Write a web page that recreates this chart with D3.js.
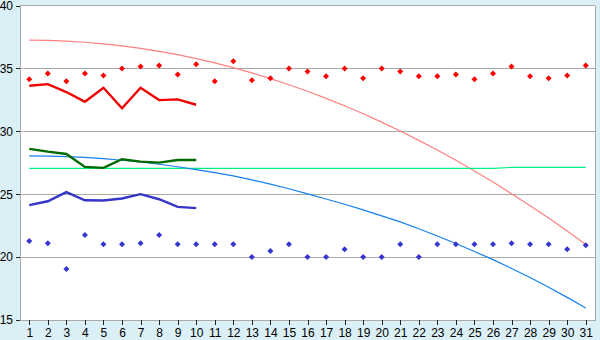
<!DOCTYPE html>
<html>
<head>
<meta charset="utf-8">
<script src="https://cdn.jsdelivr.net/npm/d3@7"></script>
<style>
  body { margin: 0; background: #daeff6; }
  svg { display: block; }
  .tick text { font-family: "Liberation Sans", Arial, sans-serif; font-size: 12px; fill: #000; }
</style>
</head>
<body>
<div id="chart"></div>
<script>
// Days on the x axis
const days = [1, 2, 3, 4, 5, 6, 7, 8, 9, 10, 11, 12, 13, 14, 15, 16, 17, 18, 19, 20,
              21, 22, 23, 24, 25, 26, 27, 28, 29, 30, 31];
const yTicks = [15, 20, 25, 30, 35, 40];

// Marker series (all 31 days)
const redPoints = [34.13, 34.60, 33.97, 34.60, 34.44, 35.00, 35.16, 35.24, 34.52, 35.32,
                   33.97, 35.56, 34.05, 34.21, 35.00, 34.76, 34.37, 35.00, 34.21, 35.00,
                   34.76, 34.37, 34.37, 34.52, 34.13, 34.60, 35.16, 34.37, 34.21, 34.44, 35.24];
const bluePoints = [21.27, 21.11, 19.05, 21.75, 21.03, 21.03, 21.11, 21.75, 21.03, 21.03,
                    21.03, 21.03, 20.00, 20.48, 21.03, 20.00, 20.00, 20.63, 20.00, 20.00,
                    21.03, 20.00, 21.03, 21.03, 21.03, 21.03, 21.11, 21.03, 21.03, 20.63, 20.95];

// Thick lines (first 10 days)
const redLine = [33.62, 33.75, 33.12, 32.35, 33.46, 31.83, 33.46, 32.48, 32.54, 32.11];
const greenLine = [28.60, 28.38, 28.20, 27.17, 27.09, 27.78, 27.59, 27.51, 27.72, 27.72];
const blueLine = [24.13, 24.44, 25.16, 24.52, 24.50, 24.66, 25.00, 24.60, 23.99, 23.89];

// Thin lines (all 31 days)
const pinkTrend = [37.24, 37.22, 37.17, 37.08, 36.95, 36.79, 36.59, 36.36, 36.09, 35.78,
                   35.44, 35.06, 34.64, 34.19, 33.70, 33.18, 32.62, 32.03, 31.40, 30.73,
                   30.02, 29.28, 28.51, 27.70, 26.85, 25.97, 25.04, 24.09, 23.10, 22.07, 21.00];
const blueTrend = [28.04, 28.03, 27.99, 27.92, 27.83, 27.70, 27.56, 27.38, 27.18, 26.95,
                   26.72, 26.45, 26.14, 25.80, 25.43, 25.03, 24.62, 24.20, 23.75, 23.28,
                   22.80, 22.25, 21.68, 21.08, 20.45, 19.80, 19.10, 18.38, 17.60, 16.80, 15.95];
const greenTrend = [27.06, 27.06, 27.06, 27.06, 27.06, 27.06, 27.06, 27.06, 27.06, 27.06,
                    27.06, 27.06, 27.06, 27.06, 27.06, 27.06, 27.06, 27.06, 27.06, 27.06,
                    27.06, 27.06, 27.06, 27.06, 27.06, 27.06, 27.13, 27.13, 27.13, 27.13, 27.13];

const width = 600, height = 340;
const plot = {left: 20, right: 595, top: 5.5, bottom: 320};

let svg = d3.select("#chart")
            .append("svg")
            .attr("width", width)
            .attr("height", height);

// Plot area background
svg.append("rect")
   .attr("x", plot.left)
   .attr("y", plot.top)
   .attr("width", plot.right - plot.left)
   .attr("height", plot.bottom - plot.top)
   .attr("fill", "#fff");

let x = d3.scalePoint()
          .domain(days)
          .range([plot.left, plot.right])
          .padding(0.5);

let y = d3.scaleLinear()
          .domain([15, 40])
          .range([plot.bottom, plot.top]);

// Gridlines (the one at 40 doubles as the top border)
svg.append("g")
   .selectAll("line")
   .data(yTicks.slice(1))
   .enter()
   .append("line")
     .attr("x1", plot.left)
     .attr("x2", plot.right)
     .attr("y1", d => y(d))
     .attr("y2", d => y(d))
     .attr("stroke", "#aaaaaa")
     .attr("shape-rendering", "crispEdges");

// Right border
svg.append("line")
   .attr("x1", plot.right).attr("x2", plot.right)
   .attr("y1", plot.top).attr("y2", plot.bottom)
   .attr("stroke", "#aaaaaa")
   .attr("shape-rendering", "crispEdges");

// Y axis
let yAxis = svg.append("g")
               .attr("transform", `translate(${plot.left},0)`)
               .call(d3.axisLeft(y).tickValues(yTicks).tickSize(4).tickPadding(3).tickSizeOuter(0));
yAxis.select(".domain").attr("stroke", "#aaaaaa").attr("shape-rendering", "crispEdges");
yAxis.selectAll(".tick line").attr("stroke", "#222").attr("shape-rendering", "crispEdges");

// X axis
let xAxis = svg.append("g")
               .attr("transform", `translate(0,${plot.bottom})`)
               .call(d3.axisBottom(x).tickSize(5).tickPadding(3).tickSizeOuter(0));
xAxis.select(".domain").attr("stroke", "#aaaaaa").attr("shape-rendering", "crispEdges");
xAxis.selectAll(".tick line").attr("stroke", "#222").attr("shape-rendering", "crispEdges");

const line = d3.line()
               .x((d, i) => x(days[i]))
               .y(d => y(d));

// Thin trend lines
const thin = [
  {values: pinkTrend, color: "#ff8080"},
  {values: greenTrend, color: "#00f080"},
  {values: blueTrend, color: "#1480f0"}
];
svg.selectAll(".thin")
   .data(thin)
   .enter()
   .append("path")
     .attr("class", "thin")
     .attr("d", d => line(d.values))
     .attr("fill", "none")
     .attr("stroke", d => d.color)
     .attr("stroke-width", 1.2);

// Thick lines
const thick = [
  {values: redLine, color: "#f00000"},
  {values: greenLine, color: "#006a00"},
  {values: blueLine, color: "#3535c8"}
];
svg.selectAll(".thick")
   .data(thick)
   .enter()
   .append("path")
     .attr("class", "thick")
     .attr("d", d => line(d.values))
     .attr("fill", "none")
     .attr("stroke", d => d.color)
     .attr("stroke-width", 2.4)
     .attr("stroke-linejoin", "miter");

// Diamond markers
const diamond = "M0,-3L3,0L0,3L-3,0Z";
const markers = [
  {values: redPoints, color: "#ff0000"},
  {values: bluePoints, color: "#3535d0"}
];
svg.selectAll(".markers")
   .data(markers)
   .enter()
   .append("g")
     .attr("fill", d => d.color)
   .selectAll("path")
   .data(d => d.values)
   .enter()
   .append("path")
     .attr("d", diamond)
     .attr("transform", (d, i) => `translate(${x(days[i])},${y(d)})`);
</script>
</body>
</html>
